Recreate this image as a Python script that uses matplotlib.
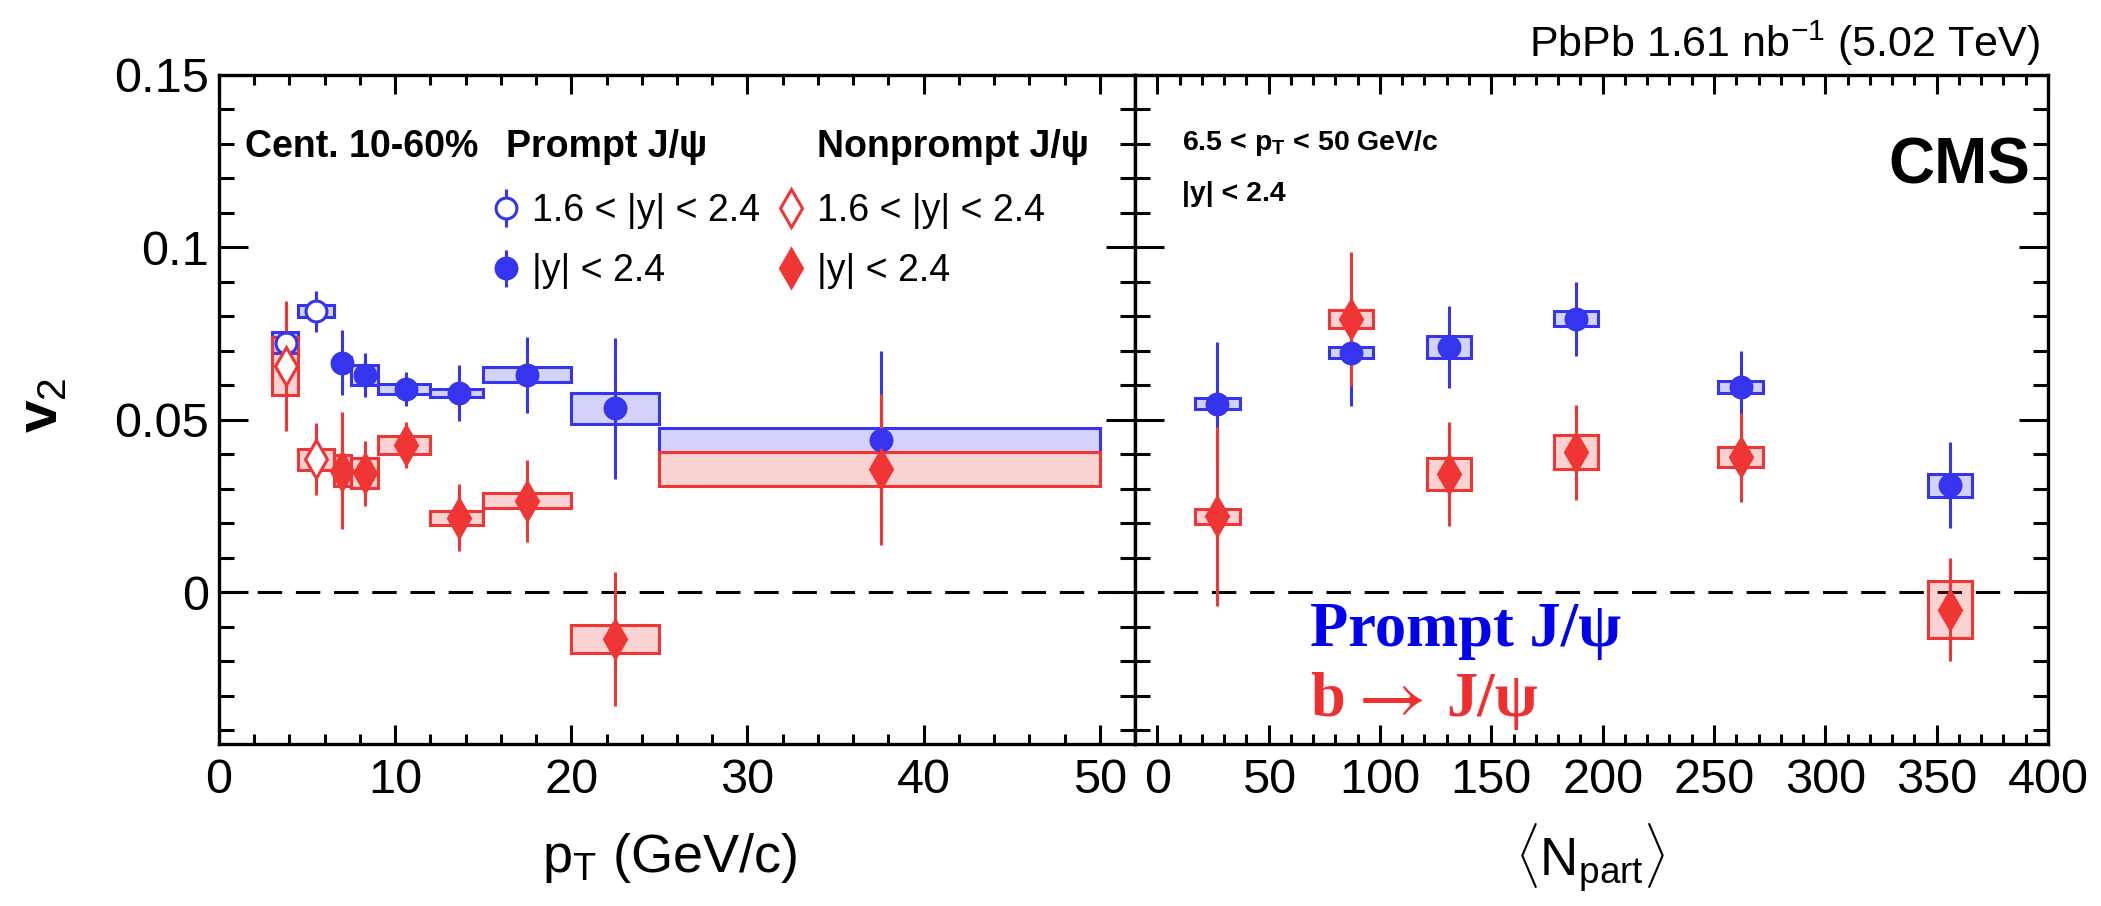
import matplotlib
matplotlib.use("Agg")
import matplotlib.pyplot as plt
from matplotlib.colors import to_rgba
from matplotlib.ticker import MultipleLocator

plt.rcParams['font.family'] = ['Liberation Sans', 'DejaVu Sans']
plt.rcParams['mathtext.fontset'] = 'custom'
plt.rcParams['mathtext.rm'] = 'Liberation Sans'
plt.rcParams['mathtext.it'] = 'Liberation Sans:italic'
plt.rcParams['mathtext.bf'] = 'Liberation Sans:bold'

BLUE = '#3535f0'
RED = '#f03535'

# ---- v2 vs pT, centrality 10-60% ----
# forward rapidity, 1.6 < |y| < 2.4
pt_fwd = [3.8, 5.5]
pt_fwd_lo = [3.0, 4.5]
pt_fwd_hi = [4.5, 6.5]
v2_prompt_fwd = [0.0724, 0.0815]
stat_prompt_fwd = [0.0040, 0.0060]
syst_prompt_fwd = [0.0031, 0.0017]
v2_nonprompt_fwd = [0.0657, 0.0386]
stat_nonprompt_fwd = [0.0188, 0.0105]
syst_nonprompt_fwd = [0.0084, 0.0030]

# full rapidity, |y| < 2.4
pt_mid = [7.0, 8.3, 10.6, 13.6, 17.5, 22.5, 37.6]
pt_mid_lo = [6.5, 7.5, 9.0, 12.0, 15.0, 20.0, 25.0]
pt_mid_hi = [7.5, 9.0, 12.0, 15.0, 20.0, 25.0, 50.0]
v2_prompt_mid = [0.0666, 0.0630, 0.0589, 0.0578, 0.0631, 0.0533, 0.0442]
stat_prompt_mid = [0.0095, 0.0065, 0.0050, 0.0080, 0.0110, 0.0205, 0.0257]
syst_prompt_mid = [0.0015, 0.0029, 0.0014, 0.0012, 0.0022, 0.0045, 0.0034]
v2_nonprompt_mid = [0.0353, 0.0345, 0.0427, 0.0216, 0.0265, -0.0136, 0.0357]
stat_nonprompt_mid = [0.0170, 0.0095, 0.0068, 0.0097, 0.0118, 0.0195, 0.0219]
syst_nonprompt_mid = [0.0045, 0.0043, 0.0025, 0.0020, 0.0022, 0.0040, 0.0050]

# ---- v2 vs <Npart>, 6.5 < pT < 50 GeV/c, |y| < 2.4 ----
npart = [27, 87, 131, 188, 262, 356]
npart_box_width = [20, 20, 20, 20, 20, 20]
v2_prompt_npart = [0.0547, 0.0695, 0.0711, 0.0793, 0.0595, 0.0310]
stat_prompt_npart = [0.0180, 0.0155, 0.0118, 0.0108, 0.0106, 0.0125]
syst_prompt_npart = [0.0015, 0.0016, 0.0033, 0.0022, 0.0018, 0.0034]
v2_nonprompt_npart = [0.0220, 0.0793, 0.0343, 0.0406, 0.0391, -0.0050]
stat_nonprompt_npart = [0.0260, 0.0194, 0.0150, 0.0137, 0.0128, 0.0150]
syst_nonprompt_npart = [0.0021, 0.0026, 0.0045, 0.0049, 0.0029, 0.0083]

xticks_pt = [0, 10, 20, 30, 40, 50]
xticks_npart = [0, 50, 100, 150, 200, 250, 300, 350, 400]
yticks = [0, 0.05, 0.1, 0.15]
ytick_labels = ['0', '0.05', '0.1', '0.15']

W, H = 2101, 906
fig = plt.figure(figsize=(W / 100, H / 100), dpi=100)
ax1 = fig.add_axes([219 / W, 1 - 744 / H, 916 / W, 669 / H])
ax2 = fig.add_axes([1135 / W, 1 - 744 / H, 913 / W, 669 / H])

MS_C = 15
MS_D = 19


def draw_series(ax, x, lo, hi, v, stat, syst, color, marker, filled, ms):
    v = list(v)
    syst = list(syst)
    ax.bar(lo, [2 * s for s in syst], bottom=[a - s for a, s in zip(v, syst)],
           width=[h - l for l, h in zip(lo, hi)], align='edge',
           facecolor=to_rgba(color, 0.22), edgecolor=color, linewidth=2.2, zorder=2)
    return ax.errorbar(x, v, yerr=stat, fmt=marker, color=color, ecolor=color,
                       mfc=color if filled else 'white', mec=color, mew=2.2,
                       ms=ms, elinewidth=2.2, capsize=0, zorder=3)


# left panel: pT dependence
h_pf = draw_series(ax1, pt_fwd, pt_fwd_lo, pt_fwd_hi, v2_prompt_fwd, stat_prompt_fwd,
                   syst_prompt_fwd, BLUE, 'o', False, MS_C)
h_pm = draw_series(ax1, pt_mid, pt_mid_lo, pt_mid_hi, v2_prompt_mid, stat_prompt_mid,
                   syst_prompt_mid, BLUE, 'o', True, MS_C)
h_nf = draw_series(ax1, pt_fwd, pt_fwd_lo, pt_fwd_hi, v2_nonprompt_fwd, stat_nonprompt_fwd,
                   syst_nonprompt_fwd, RED, 'd', False, MS_D)
h_nm = draw_series(ax1, pt_mid, pt_mid_lo, pt_mid_hi, v2_nonprompt_mid, stat_nonprompt_mid,
                   syst_nonprompt_mid, RED, 'd', True, MS_D)

# right panel: centrality dependence
np_lo = [n - w / 2 for n, w in zip(npart, npart_box_width)]
np_hi = [n + w / 2 for n, w in zip(npart, npart_box_width)]
draw_series(ax2, npart, np_lo, np_hi, v2_prompt_npart, stat_prompt_npart,
            syst_prompt_npart, BLUE, 'o', True, MS_C)
draw_series(ax2, npart, np_lo, np_hi, v2_nonprompt_npart, stat_nonprompt_npart,
            syst_nonprompt_npart, RED, 'd', True, MS_D)

for ax in (ax1, ax2):
    ax.axhline(0, color='black', lw=2.2, ls=(0, (8, 4.5)), zorder=1)
    ax.set_ylim(-0.044, 0.15)
    ax.set_yticks(yticks)
    ax.yaxis.set_minor_locator(MultipleLocator(0.01))
    for sp in ax.spines.values():
        sp.set_linewidth(2.4)
    ax.tick_params(which='both', direction='in', top=True, right=True, width=2.2,
                   labelsize=35, colors='black')
    ax.tick_params(axis='y', which='major', length=21, pad=7)
    ax.tick_params(axis='y', which='minor', length=11)
    ax.tick_params(axis='x', which='major', length=14, pad=10)
    ax.tick_params(axis='x', which='minor', length=7)

ax1.set_xlim(0, 52)
ax1.set_xticks(xticks_pt)
ax1.xaxis.set_minor_locator(MultipleLocator(2))
ax1.set_yticklabels(ytick_labels)

ax2.set_xlim(-10, 400)
ax2.set_xticks(xticks_npart)
ax2.xaxis.set_minor_locator(MultipleLocator(10))
ax2.tick_params(axis='y', labelleft=False)

# legends for the pT panel, one column per J/psi type
leg_kw = dict(frameon=False, fontsize=27, handlelength=0.8, handletextpad=0.3,
              labelspacing=0.65, borderpad=0, borderaxespad=0, loc='upper left')
leg1 = ax1.legend([h_pf, h_pm], ['1.6 < |y| < 2.4', '|y| < 2.4'],
                  bbox_to_anchor=(491 / W, 1 - 193 / H), bbox_transform=fig.transFigure,
                  **leg_kw)
ax1.add_artist(leg1)
ax1.legend([h_nf, h_nm], ['1.6 < |y| < 2.4', '|y| < 2.4'],
           bbox_to_anchor=(776 / W, 1 - 193 / H), bbox_transform=fig.transFigure,
           **leg_kw)


def ftext(x, y, s, **kw):
    fig.text(x / W, 1 - y / H, s, **kw)


ftext(245, 157, 'Cent. 10-60%', fontsize=27, fontweight='bold', va='baseline')
ftext(506, 157, 'Prompt J/\u03c8', fontsize=27, fontweight='bold', va='baseline')
ftext(817, 157, 'Nonprompt J/\u03c8', fontsize=27, fontweight='bold', va='baseline')

ftext(1182, 150, r'6.5 < p$_\mathbf{T}$ < 50 GeV/c', fontsize=20.5, fontweight='bold',
      va='baseline')
ftext(1182, 201, '|y| < 2.4', fontsize=20.5, fontweight='bold', va='baseline')
ftext(2030, 183, 'CMS', fontsize=46, fontweight='bold', va='baseline', ha='right')

serif = ['Liberation Serif', 'DejaVu Serif']
PROMPT_BLUE = '#0000ee'
B_RED = '#f03030'
ftext(1310, 646, 'Prompt J/\u03c8', fontsize=45, fontweight='bold', color=PROMPT_BLUE,
      family=serif, va='baseline')
ftext(1310, 716, 'b', fontsize=45, fontweight='bold', color=B_RED, family=serif,
      va='baseline')
ftext(1347, 718, r'$\rightarrow$', fontsize=54, color=B_RED, math_fontfamily='stix',
      va='baseline')
ftext(1446, 716, 'J/\u03c8', fontsize=45, fontweight='bold', color=B_RED, family=serif,
      va='baseline')

ftext(2040, 57, r'PbPb 1.61 nb$^{\mathregular{-1}}$ (5.02 TeV)', fontsize=31,
      va='baseline', ha='right')

ftext(670, 858, r'p$_\mathregular{T}$ (GeV/c)', fontsize=39, ha='center', va='center')
ftext(1590, 858, r'$\langle$N$_\mathregular{part}$$\rangle$', fontsize=38, ha='center',
      va='center')
ftext(42, 405, r'$\mathbf{v}_\mathregular{2}$', fontsize=42, rotation=90, ha='center',
      va='center')

fig.savefig('out.png', dpi=100)
